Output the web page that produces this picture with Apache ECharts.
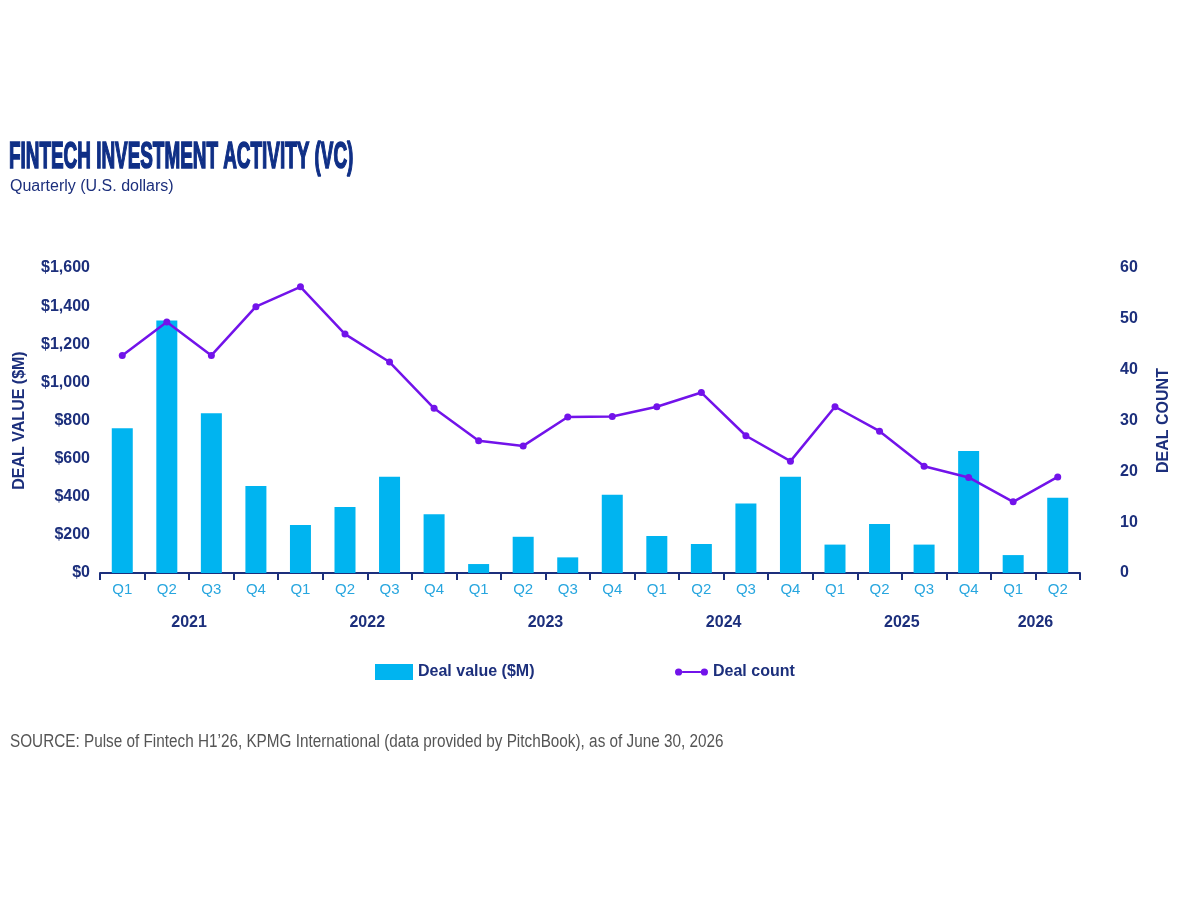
<!DOCTYPE html>
<html>
<head>
<meta charset="utf-8">
<script src="https://cdn.jsdelivr.net/npm/echarts@6/dist/echarts.min.js"></script>
<style>
html,body{margin:0;padding:0;background:#fff;}
#chart{width:1200px;height:900px;}
</style>
</head>
<body>
<div id="chart"></div>
<script>
const quarters = ['Q1','Q2','Q3','Q4','Q1','Q2','Q3','Q4','Q1','Q2','Q3','Q4','Q1','Q2','Q3','Q4','Q1','Q2','Q3','Q4','Q1','Q2'];
const years = ['2021','2022','2023','2024','2025','2026'];
const quartersPerYear = [4,4,4,4,4,2];
const dealValue = [760,1325,838,456,252,346,505,308,47,190,82,411,194,152,364,505,149,257,149,640,94,395];
const dealCount = [42.8,49.4,42.8,52.4,56.3,47.0,41.5,32.4,26.0,25.0,30.7,30.8,32.7,35.5,27.0,22.0,32.7,27.9,21.0,18.8,14.0,18.9];
const valueTicks = [0,200,400,600,800,1000,1200,1400,1600];
const countTicks = [0,10,20,30,40,50,60];

// Year axis: points at every half-quarter boundary; each year label sits at its group's centre
const yearAxisData = [];
const totalHalf = quarters.length * 2;
for (let i = 0; i <= totalHalf; i++) yearAxisData.push('');
let start = 0;
years.forEach((y, k) => {
  const span = quartersPerYear[k];
  yearAxisData[start * 2 + span] = y;
  start += span;
});

const NAVY = '#1c2f7c';
const TITLE_BLUE = '#0f2f86';
const CYAN = '#00b4f0';
const PURPLE = '#7213ea';
const FONT = '"Liberation Sans", Arial, sans-serif';

const chart = echarts.init(document.getElementById('chart'));
chart.setOption({
  backgroundColor: '#ffffff',
  animation: false,
  textStyle: { fontFamily: FONT },
  graphic: [
    { type: 'text', x: 9, y: 158, scaleX: 0.525,
      style: { text: 'FINTECH INVESTMENT ACTIVITY (VC)', fontFamily: FONT, fontWeight: 'bold', fontSize: 36,
        fill: TITLE_BLUE, stroke: TITLE_BLUE, lineWidth: 1.6, verticalAlign: 'middle', align: 'left' } },
    { type: 'text', x: 10, y: 187,
      style: { text: 'Quarterly (U.S. dollars)', fontFamily: FONT, fontWeight: 'normal', fontSize: 16,
        fill: NAVY, verticalAlign: 'middle', align: 'left' } },
    { type: 'text', x: 10, y: 742, scaleX: 0.85,
      style: { text: 'SOURCE: Pulse of Fintech H1\u201926, KPMG International (data provided by PitchBook), as of June 30, 2026',
        fontFamily: FONT, fontWeight: 'normal', fontSize: 18, fill: '#555555', verticalAlign: 'middle', align: 'left' } }
  ],
  legend: [
    { data: [{ name: 'Deal value ($M)', icon: 'rect' }], left: 375, top: 664, itemWidth: 38, itemHeight: 16, itemGap: 10,
      textStyle: { fontFamily: FONT, fontWeight: 'bold', fontSize: 16, color: NAVY }, padding: 0 },
    { data: [{ name: 'Deal count', icon: 'path://M0.5,4 A3.5,3.5 0 1,1 7.5,4 A3.5,3.5 0 1,1 0.5,4 Z M25.5,4 A3.5,3.5 0 1,1 32.5,4 A3.5,3.5 0 1,1 25.5,4 Z M7.5,3 L25.5,3 L25.5,5 L7.5,5 Z' }],
      left: 675, top: 664, itemWidth: 33, itemHeight: 8, itemGap: 14,
      textStyle: { fontFamily: FONT, fontWeight: 'bold', fontSize: 16, color: NAVY }, padding: 0 }
  ],
  grid: { left: 100, right: 120, top: 268, bottom: 327, containLabel: false, outerBoundsMode: 'none' },
  xAxis: [
    { type: 'category', data: quarters, position: 'bottom',
      axisLine: { lineStyle: { color: NAVY, width: 2 } },
      axisTick: { show: true, length: 7, inside: false, lineStyle: { color: NAVY, width: 2 } },
      axisLabel: { color: '#27a6df', fontSize: 15, margin: 9, interval: 0, fontFamily: FONT } },
    { type: 'category', data: yearAxisData, boundaryGap: false, position: 'bottom', offset: 34,
      axisLine: { show: false }, axisTick: { show: false }, splitLine: { show: false },
      axisLabel: { color: NAVY, fontSize: 16, fontWeight: 'bold', margin: 8, interval: 0, fontFamily: FONT } }
  ],
  yAxis: [
    { type: 'value', min: valueTicks[0], max: valueTicks[valueTicks.length - 1], interval: valueTicks[1] - valueTicks[0],
      name: 'DEAL VALUE ($M)', nameLocation: 'middle', nameGap: 72, nameRotate: 90,
      nameTextStyle: { color: NAVY, fontWeight: 'bold', fontSize: 16, fontFamily: FONT },
      axisLine: { show: false }, axisTick: { show: false }, splitLine: { show: false },
      axisLabel: { color: NAVY, fontWeight: 'bold', fontSize: 16, margin: 10, fontFamily: FONT,
        formatter: v => '$' + v.toLocaleString('en-US') } },
    { type: 'value', min: countTicks[0], max: countTicks[countTicks.length - 1], interval: countTicks[1] - countTicks[0],
      position: 'right',
      name: 'DEAL COUNT', nameLocation: 'middle', nameGap: 76, nameRotate: 90,
      nameTextStyle: { color: NAVY, fontWeight: 'bold', fontSize: 16, fontFamily: FONT },
      axisLine: { show: false }, axisTick: { show: false }, splitLine: { show: false },
      axisLabel: { color: NAVY, fontWeight: 'bold', fontSize: 16, margin: 40, align: 'left', padding: [0, 0, 10, 0], fontFamily: FONT } }
  ],
  series: [
    { name: 'Deal value ($M)', type: 'bar', xAxisIndex: 0, yAxisIndex: 0, data: dealValue,
      barWidth: 21, itemStyle: { color: CYAN } },
    { name: 'Deal count', type: 'line', xAxisIndex: 0, yAxisIndex: 1, data: dealCount,
      symbol: 'circle', symbolSize: 7, lineStyle: { color: PURPLE, width: 2.5 }, itemStyle: { color: PURPLE }, z: 5 }
  ]
});
</script>
</body>
</html>
